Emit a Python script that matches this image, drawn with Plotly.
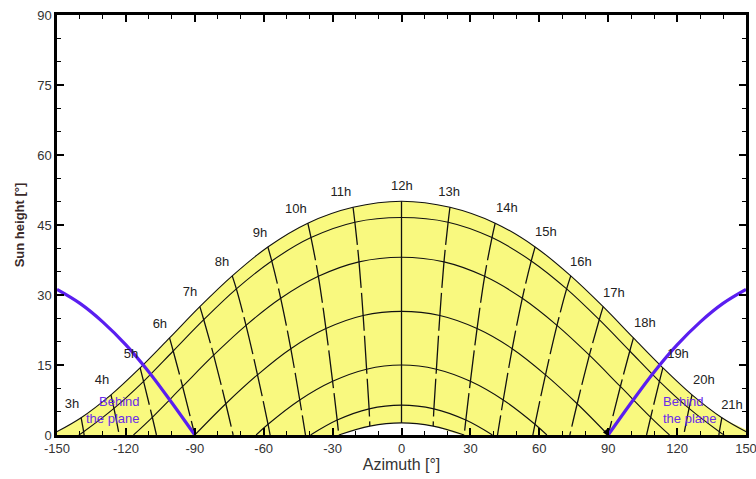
import plotly.graph_objects as go

# ---------------- data ----------------
# Date curves: hours (solar time), azimuth [°] and sun height [°]
DATE_NAMES = ["22 June", "22 May", "20 April", "20 March", "21 February", "19 January", "22 December"]
DATE_HOURS = [
    list(range(3, 22)),
    list(range(3, 22)),
    list(range(5, 20)),
    list(range(7, 18)),
    list(range(8, 17)),
    list(range(10, 15)),
    [11, 12, 13],
]
DATE_AZ = [
    [-139.5, -126.5, -113.8, -101.0, -87.8, -73.7, -58.2, -40.8, -21.1, 0.0,
     21.1, 40.8, 58.2, 73.7, 87.8, 101.0, 113.8, 126.5, 139.5],
    [-138.4, -125.2, -112.3, -99.4, -86.1, -71.9, -56.5, -39.4, -20.3, 0.0,
     20.3, 39.4, 56.5, 71.9, 86.1, 99.4, 112.3, 125.2, 138.4],
    [-108.5, -95.3, -81.8, -67.7, -52.6, -36.2, -18.5, 0.0,
     18.5, 36.2, 52.6, 67.7, 81.8, 95.3, 108.5],
    [-76.5, -62.7, -48.2, -32.9, -16.7, 0.0, 16.7, 32.9, 48.2, 62.7, 76.5],
    [-58.1, -44.3, -30.0, -15.2, 0.0, 15.2, 30.0, 44.3, 58.1],
    [-28.0, -14.1, 0.0, 14.1, 28.0],
    [-13.8, 0.0, 13.8],
]
DATE_ALT = [
    [3.7, 8.6, 14.4, 20.8, 27.5, 34.1, 40.3, 45.4, 48.8, 50.1,
     48.8, 45.4, 40.3, 34.1, 27.5, 20.8, 14.4, 8.6, 3.7],
    [0.7, 5.7, 11.5, 18.0, 24.7, 31.3, 37.3, 42.3, 45.6, 46.6,
     45.6, 42.3, 37.3, 31.3, 24.7, 18.0, 11.5, 5.7, 0.7],
    [3.8, 10.4, 17.1, 23.5, 29.3, 34.0, 37.1, 38.1,
     37.1, 34.0, 29.3, 23.5, 17.1, 10.4, 3.8],
    [6.7, 12.9, 18.5, 22.8, 25.6, 26.5, 25.6, 22.8, 18.5, 12.9, 6.7],
    [2.3, 7.5, 11.5, 14.1, 15.0, 14.1, 11.5, 7.5, 2.3],
    [3.2, 5.6, 6.4, 5.6, 3.2],
    [1.9, 2.6, 1.9],
]
DATE_SUNRISE_AZ = [-152.7, -140.5, -116.7, -90.0, -63.3, -39.6, -27.3]
DATE_SUNSET_AZ = [152.7, 140.5, 116.7, 90.0, 63.3, 39.6, 27.3]

# Where hour lines meet the horizon
HOUR_END_HOURS = [3, 4, 5, 6, 7, 8, 9, 10, 14, 15, 16, 17, 18, 19, 20, 21]
HOUR_END_AZ = [-138.2, -122.9, -106.7, -90.0, -73.3, -57.2, -41.8, -27.3,
               27.3, 41.8, 57.2, 73.3, 90.0, 106.7, 122.9, 138.2]

# Hour labels
HOUR_LABELS = ["3h", "4h", "5h", "6h", "7h", "8h", "9h", "10h", "11h", "12h",
               "13h", "14h", "15h", "16h", "17h", "18h", "19h", "20h", "21h"]
HOUR_LABEL_AZ = [-143.5, -130.4, -117.8, -105.2, -92.1, -78.2, -61.6, -46.0, -26.4, 0.2,
                 20.7, 45.9, 62.9, 78.1, 92.5, 106.0, 120.4, 131.7, 143.9]
HOUR_LABEL_ALT = [6.4, 11.6, 17.1, 23.6, 30.4, 36.9, 43.1, 48.2, 51.9, 53.1,
                  51.9, 48.4, 43.3, 36.9, 30.2, 23.8, 17.1, 11.6, 6.2]

# Plane horizon ("behind the plane" limit)
BEHIND_LEFT_AZ = [-150, -140, -130, -120, -110, -100, -90]
BEHIND_LEFT_ALT = [31.2, 28.2, 24.2, 19.3, 13.5, 6.9, 0.0]
BEHIND_RIGHT_AZ = [90, 100, 110, 120, 130, 140, 150]
BEHIND_RIGHT_ALT = [0.0, 6.9, 13.5, 19.3, 24.2, 28.2, 31.2]
END_MARK_AZ = [89.0]
END_MARK_ALT = [0.6]

X_TICKS = [-150, -120, -90, -60, -30, 0, 30, 60, 90, 120, 150]
X_TICK_LABELS = ["-150", "-120", "-90", "-60", "-30", "0", "30", "60", "90", "120", "150"]
Y_TICKS = [0, 15, 30, 45, 60, 75, 90]
Y_TICK_LABELS = ["0", "15", "30", "45", "60", "75", "90"]

# ---------------- figure ----------------
FONT = "Liberation Sans, Arial, sans-serif"
fig = go.Figure()


def full_curve(i):
    xs = [DATE_SUNRISE_AZ[i]] + DATE_AZ[i] + [DATE_SUNSET_AZ[i]]
    ys = [0.0] + DATE_ALT[i] + [0.0]
    return xs, ys


# yellow area between summer and winter solstice curves
jx, jy = full_curve(0)
dx, dy = full_curve(len(DATE_NAMES) - 1)
fig.add_trace(go.Scatter(
    x=jx + dx[::-1], y=jy + dy[::-1], mode="lines", fill="toself",
    fillcolor="#F9F97F", line=dict(color="rgba(0,0,0,0)", width=0, shape="spline"),
    hoverinfo="skip", showlegend=False))

# date curves
for i, name in enumerate(DATE_NAMES):
    xs, ys = full_curve(i)
    fig.add_trace(go.Scatter(x=xs, y=ys, mode="lines", name=name,
                             line=dict(color="#111111", width=1.1, shape="spline"),
                             showlegend=False))

# hour lines
for h in range(3, 22):
    xs, ys = [], []
    for i in range(len(DATE_NAMES)):
        if h in DATE_HOURS[i]:
            j = DATE_HOURS[i].index(h)
            xs.append(DATE_AZ[i][j])
            ys.append(DATE_ALT[i][j])
    if h in HOUR_END_HOURS:
        xs.append(HOUR_END_AZ[HOUR_END_HOURS.index(h)])
        ys.append(0.0)
    fig.add_trace(go.Scatter(x=xs, y=ys, mode="lines",
                             line=dict(color="#111111", width=1.3, shape="spline",
                                       dash=None if h == 12 else "38px,5px"),
                             showlegend=False))

# behind-the-plane limits
for bx, by in ((BEHIND_LEFT_AZ, BEHIND_LEFT_ALT), (BEHIND_RIGHT_AZ, BEHIND_RIGHT_ALT)):
    fig.add_trace(go.Scatter(x=bx, y=by, mode="lines",
                             line=dict(color="#5A1EF0", width=3.2, shape="spline"),
                             showlegend=False))
fig.add_trace(go.Scatter(x=END_MARK_AZ, y=END_MARK_ALT, mode="markers",
                         marker=dict(symbol="triangle-left", size=6, color="black"),
                         showlegend=False, cliponaxis=False))

# hour labels
fig.add_trace(go.Scatter(x=HOUR_LABEL_AZ, y=HOUR_LABEL_ALT, mode="text",
                         text=HOUR_LABELS, textposition="middle center",
                         textfont=dict(family=FONT, size=13, color="#222222"),
                         showlegend=False, cliponaxis=False))

fig.add_annotation(x=-113.0, y=5.4, text="Behind<br>the plane", showarrow=False,
                   xanchor="right", yanchor="middle", align="right",
                   font=dict(family=FONT, size=13, color="#6A2CE8"))
fig.add_annotation(x=113.0, y=5.4, text="Behind<br>the plane", showarrow=False,
                   xanchor="left", yanchor="middle", align="left",
                   font=dict(family=FONT, size=13, color="#6A2CE8"))

axis_common = dict(
    showgrid=False, zeroline=False, showline=True, linecolor="black", linewidth=2.5,
    mirror="allticks", ticks="inside", ticklen=7, tickwidth=1.5, tickcolor="black",
    tickfont=dict(family=FONT, size=13, color="#333333"),
    ticklabeloverflow="allow",
)

fig.update_xaxes(
    range=[-150, 150], tickvals=X_TICKS, ticktext=X_TICK_LABELS,
    minor=dict(dtick=10, tick0=0, ticks="inside", ticklen=4, tickwidth=1.2, tickcolor="black"),
    title=dict(text="Azimuth [°]", font=dict(family=FONT, size=16, color="#333333"), standoff=2),
    **axis_common)
fig.update_yaxes(
    range=[0, 90], tickvals=Y_TICKS, ticktext=Y_TICK_LABELS,
    minor=dict(dtick=5, tick0=0, ticks="inside", ticklen=4, tickwidth=1.2, tickcolor="black"),
    title=dict(text="<b>Sun height [°]</b>", font=dict(family=FONT, size=13, color="#3A2A2A"), standoff=10),
    **axis_common)

fig.update_layout(
    width=756, height=479,
    margin=dict(l=57, r=10, t=15, b=44, autoexpand=False),
    plot_bgcolor="white", paper_bgcolor="white",
    showlegend=False,
)

fig.write_html("out.html")
